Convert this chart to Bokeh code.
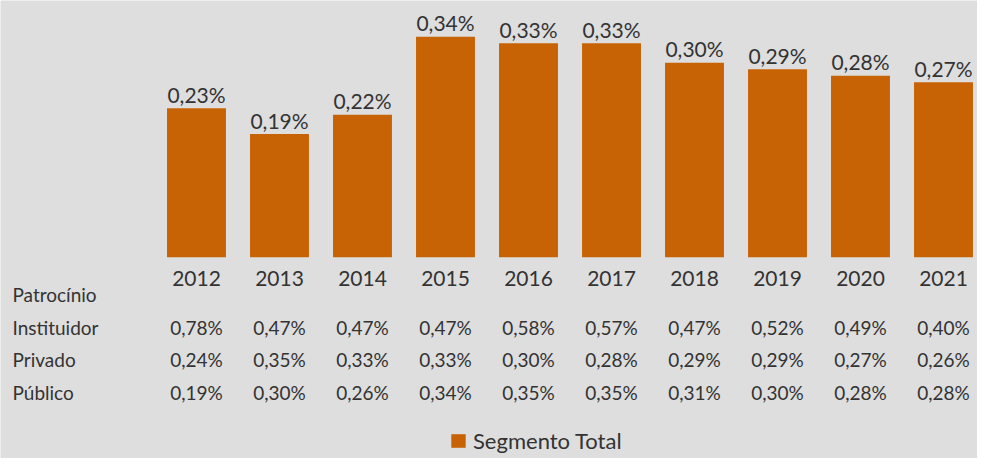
from bokeh.plotting import figure
from bokeh.models import Range1d, Legend, LegendItem, ColumnDataSource
from bokeh.core.properties import value
from bokeh.embed import file_html
from bokeh.resources import INLINE

# ---- data ----
years = ["2012", "2013", "2014", "2015", "2016", "2017", "2018", "2019", "2020", "2021"]
segmento_total = [0.23, 0.19, 0.22, 0.34, 0.33, 0.33, 0.30, 0.29, 0.28, 0.27]
instituidor = [0.78, 0.47, 0.47, 0.47, 0.58, 0.57, 0.47, 0.52, 0.49, 0.40]
privado = [0.24, 0.35, 0.33, 0.33, 0.30, 0.28, 0.29, 0.29, 0.27, 0.26]
publico = [0.19, 0.30, 0.26, 0.34, 0.35, 0.35, 0.31, 0.30, 0.28, 0.28]
row_header = "Patrocínio"
row_names = ["Instituidor", "Privado", "Público"]
series_name = "Segmento Total"

# ---- styles ----
BG = "#DEDEDE"
BAR = "#C86305"
TXT = "#333333"
FONT = "Lato"


def fmt(v):
    return f"{v:.2f}".replace(".", ",") + "%"


idx = list(range(len(years)))

p = figure(width=977, height=458, output_backend="svg", toolbar_location=None,
           x_range=Range1d(-2.3614, 9.4096), y_range=Range1d(-0.3106, 0.3961),
           x_axis_location=None, y_axis_location=None, min_border=0,
           background_fill_color=BG, border_fill_color=BG, outline_line_color=None)
p.xgrid.visible = False
p.ygrid.visible = False

src = ColumnDataSource(dict(x=idx, top=segmento_total,
                            lab=[fmt(v) for v in segmento_total], year=years))
bars = p.vbar(x="x", top="top", width=0.71, source=src, fill_color=BAR, line_color=None)

# value labels above bars
p.text(x="x", y="top", text="lab", source=src, y_offset=-14,
       text_align="center", text_baseline="alphabetic",
       text_font=value(FONT), text_font_size="21px", text_color=TXT)

# year labels below bars
p.text(x="x", y=0, text="year", source=src, y_offset=21.5,
       text_align="center", text_baseline="alphabetic",
       text_font=value(FONT), text_font_size="21px", text_color=TXT)

# table header
p.text(x=[0], y=[0], text=[row_header], x_offset=-184, y_offset=37.5,
       text_align="left", text_baseline="alphabetic",
       text_font=value(FONT), text_font_size="19px", text_color=TXT)

# table rows
row_offsets = [70.5, 102.5, 134.8]
for name, vals, off in zip(row_names, [instituidor, privado, publico], row_offsets):
    p.text(x=[0], y=[0], text=[name], x_offset=-184, y_offset=off,
           text_align="left", text_baseline="alphabetic",
           text_font=value(FONT), text_font_size="19px", text_color=TXT)
    p.text(x=idx, y=[0] * len(idx), text=[fmt(v) for v in vals], y_offset=off,
           text_align="center", text_baseline="alphabetic",
           text_font=value(FONT), text_font_size="19px", text_color=TXT)

legend = Legend(items=[LegendItem(label=series_name, renderers=[bars])],
                location=(449, 4), orientation="horizontal",
                padding=0, margin=0, spacing=0,
                glyph_width=18, glyph_height=17, label_standoff=6,
                label_text_font=FONT, label_text_font_size="22px",
                label_text_color=TXT,
                background_fill_alpha=0, border_line_alpha=0)
p.add_layout(legend)

open("out.html", "w").write(file_html(p, INLINE))
